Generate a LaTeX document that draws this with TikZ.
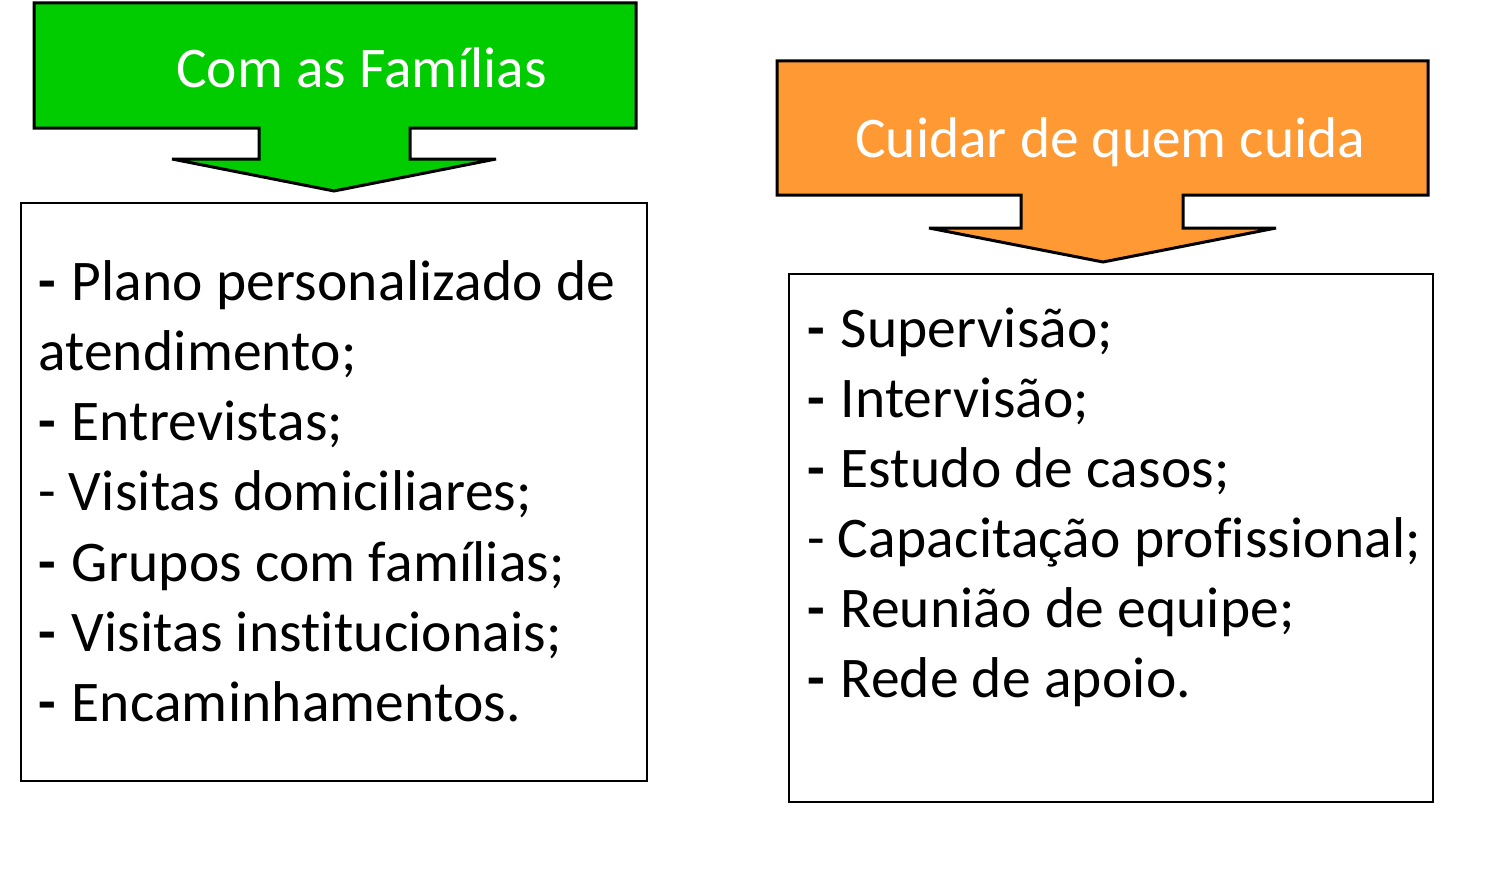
\documentclass[tikz,border=0pt]{standalone}
\usepackage{fontspec}
\setmainfont{Carlito}[Ligatures=NoCommon]
\newfontfamily\itemfont{Carlito}[Ligatures=NoCommon, LetterSpace=0.3]
\definecolor{calgreen}{RGB}{0,204,0}
\definecolor{calorange}{RGB}{255,153,51}
\tikzset{
  callout/.style={draw=black, line width=3pt, line join=miter},
  listbox/.style={draw=black, line width=2pt, fill=white},
  title/.style={anchor=base west, inner sep=0pt, text=white, font=\fontsize{57.5}{70}\selectfont},
  item/.style={anchor=base west, inner sep=0pt, text=black, font=\itemfont\fontsize{57.5}{70}\selectfont},
}
\newcommand{\bd}{\textbf{-}\hspace{2.5pt}}
\begin{document}
\begin{tikzpicture}[x=1pt,y=-1pt]
\useasboundingbox (0,0) rectangle (1493,891);
\fill[white] (0,0) rectangle (1493,891);
% green callout
\draw[callout, fill=calgreen] (34,3) -- (636,3) -- (636,128) -- (410,128) -- (410,159) -- (496,159) -- (334,191) -- (172,159) -- (259,159) -- (259,128) -- (34,128) -- cycle;
\node[title] (t1) at (176,88) {Com as Famílias};
% orange callout
\draw[callout, fill=calorange] (777,61) -- (1428,61) -- (1428,195) -- (1183,195) -- (1183,228) -- (1276,228) -- (1103,262) -- (929,228) -- (1021,228) -- (1021,195) -- (777,195) -- cycle;
\node[title] (t2) at (855,157) {Cuidar de quem cuida};
% left box
\draw[listbox] (21,203) rectangle (647,781);
\node[item] (l1) at (38,300) {\bd{} Plano personalizado de};
\node[item] (l2) at (38,370) {atendimento;};
\node[item] (l3) at (38,440) {\bd{} Entrevistas;};
\node[item] (l4) at (38,510) {- Visitas domiciliares;};
\node[item] (l5) at (38,581) {\bd{} Grupos com famílias;};
\node[item] (l6) at (38,651) {\bd{} Visitas institucionais;};
\node[item] (l7) at (38,721) {\bd{} Encaminhamentos.};
% right box
\draw[listbox] (789,274) rectangle (1433,802);
\node[item] (r1) at (807,347) {\bd{} Supervisão;};
\node[item] (r2) at (807,417) {\bd{} Intervisão;};
\node[item] (r3) at (807,487) {\bd{} Estudo de casos;};
\node[item] (r4) at (807,557) {- Capacitação profissional;};
\node[item] (r5) at (807,627) {\bd{} Reunião de equipe;};
\node[item] (r6) at (807,697) {\bd{} Rede de apoio.};
\end{tikzpicture}
\end{document}
